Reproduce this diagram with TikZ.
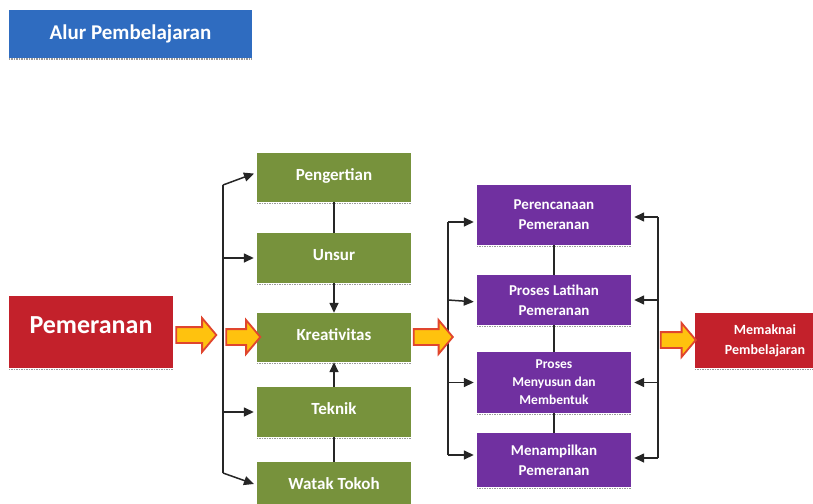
\documentclass[tikz,border=0pt]{standalone}
\usepackage{fontspec}
\setmainfont{Carlito}
\usetikzlibrary{arrows.meta,shapes.arrows}
\definecolor{tblue}{HTML}{2F6CC0}
\definecolor{tred}{HTML}{C3212B}
\definecolor{tgreen}{HTML}{77923C}
\definecolor{tpurple}{HTML}{7030A0}
\definecolor{aryellow}{HTML}{FFC20E}
\definecolor{arred}{HTML}{E0452E}
\begin{document}
\begin{tikzpicture}[x=1pt,y=-1pt,
  box/.style={draw=none,inner sep=2pt,align=center,text=white,font=\bfseries},
  gbox/.style={box,fill=tgreen,minimum width=154,font=\bfseries\fontsize{17}{19}\selectfont},
  pbox/.style={box,fill=tpurple,minimum width=154,font=\bfseries\fontsize{15}{20}\selectfont},
  shadowline/.style={draw=gray!80,line width=1.4pt,dash pattern=on 1.5pt off 1pt},
  conn/.style={draw=black!85,line width=1.5pt},
  arr/.style={conn,-{Triangle[length=10pt,width=9pt]},shorten >=3pt},
  bigarrow/.style={shape=single arrow,fill=aryellow,draw=arred,line width=1.8pt,
    inner sep=0pt,inner ysep=7pt,single arrow head extend=9pt,single arrow tip angle=100},
]
\useasboundingbox (0,0) rectangle (813,503);
\fill[white] (0,0) rectangle (813,503);

% title
\node[box,fill=tblue,minimum width=243,minimum height=48,font=\bfseries\fontsize{21}{24}\selectfont] (title) at (130.5,34) {Alur Pembelajaran};

% left red box
\node[box,fill=tred,minimum width=164,minimum height=72,font=\bfseries\fontsize{26}{28}\selectfont,text depth=14pt] (pem) at (91,332) {Pemeranan};

% green column
\node[gbox,minimum height=49,text depth=6pt] (peng) at (334,177.5) {Pengertian};
\node[gbox,minimum height=50,text depth=6pt] (unsur) at (334,258) {Unsur};
\node[gbox,minimum height=49,text depth=6pt] (kreat) at (334,337.5) {Kreativitas};
\node[gbox,minimum height=50,text depth=6pt] (tek) at (334,412) {Teknik};
\node[gbox,minimum height=50,text depth=6pt] (watak) at (334,487) {Watak Tokoh};

% purple column
\node[pbox,minimum height=60] (peren) at (554,215) {Perencanaan\\Pemeranan};
\node[pbox,minimum height=50] (latih) at (554,300) {Proses Latihan\\Pemeranan};
\node[pbox,minimum height=61,font=\bfseries\fontsize{13.5}{18}\selectfont] (susun) at (554,382.5) {Proses\\Menyusun dan\\Membentuk};
\node[pbox,minimum height=54] (tampil) at (554,460) {Menampilkan\\Pemeranan};

% right red box
\node[box,fill=tred,minimum width=140,minimum height=55,font=\bfseries\fontsize{14}{20}\selectfont] (makna) at (765,340.5) {Memaknai\\Pembelajaran};

% shadows
\foreach \n in {title,pem,peng,unsur,kreat,tek,peren,latih,susun,tampil,makna}
  \draw[shadowline] ([yshift=-1pt]\n.south west) -- ([yshift=-1pt]\n.south east);

% left branching line
\coordinate (lt) at (223,185);
\coordinate (lb) at (223,473);
\draw[conn] (lt) -- (lb);
\draw[arr] (lt) -- ([yshift=5pt]peng.west);
\draw[arr] (lt |- unsur.west) -- (unsur.west);
\draw[arr] (lt |- tek.west) -- (tek.west);
\draw[arr] (lb) -- ([yshift=2pt]watak.west);

% green vertical connectors
\draw[conn] (peng.south) -- (unsur.north);
\draw[arr,shorten >=0pt] (unsur.south) -- (kreat.north);
\draw[arr,shorten >=0pt] (tek.north) -- (kreat.south);
\draw[conn] (tek.south) -- (watak.north);

% purple vertical connectors
\draw[conn] (peren.south) -- (latih.north);
\draw[conn] (latih.south) -- (susun.north);
\draw[conn] (susun.south) -- (tampil.north);

% purple left branch
\coordinate (mt) at (448,222);
\coordinate (mb) at (448,455);
\draw[conn] (mt) -- (mb);
\draw[arr] (mt) -- ([yshift=-7pt]peren.west);
\draw[arr] (mt |- latih.west) -- ([yshift=-2pt]latih.west);
\draw[arr] (mt |- susun.west) -- (susun.west);
\draw[arr] (mb) -- ([yshift=5pt]tampil.west);

% purple right branch
\coordinate (rt) at (658,217);
\coordinate (rb) at (658,458);
\draw[conn] (rt) -- (rb);
\draw[arr] (rt) -- ([yshift=-2pt]peren.east);
\draw[arr] (rt |- latih.east) -- (latih.east);
\draw[arr] (rt |- susun.east) -- (susun.east);
\draw[arr] (rb) -- ([yshift=2pt]tampil.east);

% big arrows
\node[bigarrow,minimum height=40pt] (a1) at (193,335) {};
\node[bigarrow,minimum height=34pt] (a2) at (240,337) {};
\node[bigarrow,minimum height=39pt] (a3) at (430,337) {};
\node[bigarrow,minimum height=35pt] (a4) at (675,340) {};
\end{tikzpicture}
\end{document}
